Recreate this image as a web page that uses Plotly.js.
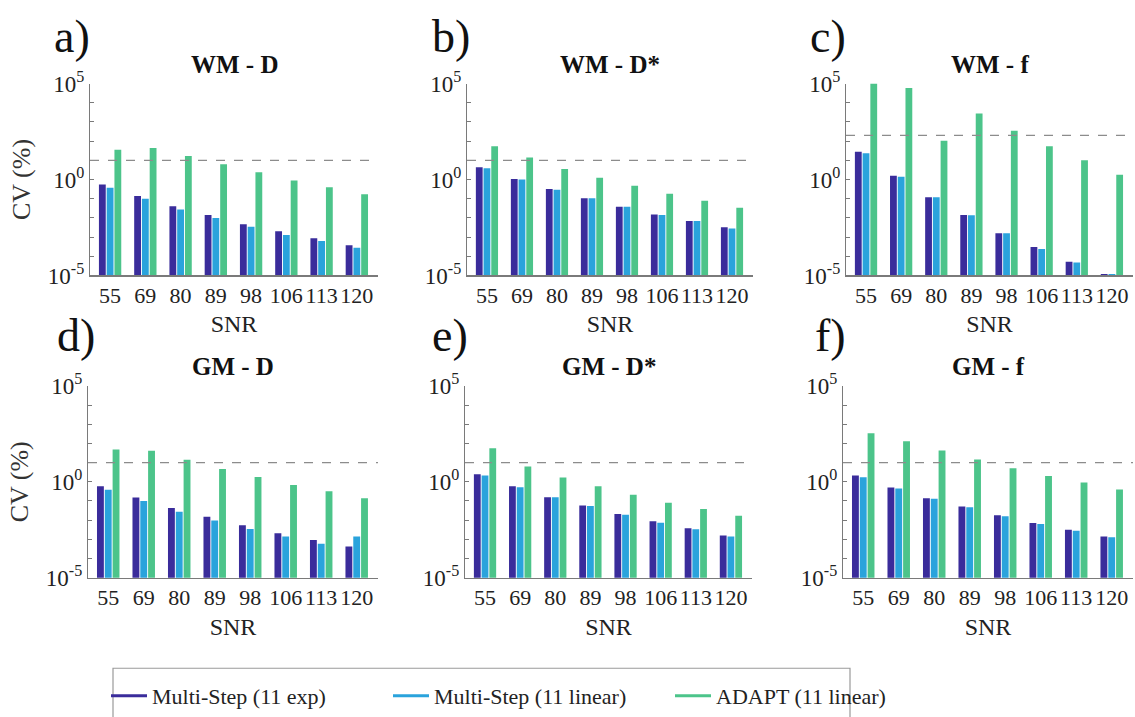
<!DOCTYPE html>
<html>
<head>
<meta charset="utf-8">
<script src="https://cdn.plot.ly/plotly-3.0.1.min.js"></script>
<style>html,body{margin:0;padding:0;background:#fff;}#chart{width:1135px;height:717px;}</style>
</head>
<body>
<div id="chart"></div>
<script>
// ---- data (CV %) ----
const snr = ['55','69','80','89','98','106','113','120'];
const seriesNames = ['Multi-Step (11 exp)','Multi-Step (11 linear)','ADAPT (11 linear)'];
const seriesColors = ['#3a2c9b','#2aa3dc','#4cc48a'];
const panelLabels = ['a)','b)','c)','d)','e)','f)'];
const panelTitles = ['WM - D','WM - D*','WM - f','GM - D','GM - D*','GM - f'];
const thresholds = [10, 10, 200, 10, 10, 10];

const wmD_exp   = [0.55, 0.14, 0.04, 0.014, 0.0047, 0.002, 0.00087, 0.00038];
const wmD_lin   = [0.37, 0.1, 0.027, 0.01, 0.0034, 0.0013, 0.00062, 0.00028];
const wmD_adapt = [35, 44, 17, 6.2, 2.4, 0.89, 0.4, 0.17];

const wmDs_exp   = [4.4, 1.07, 0.32, 0.105, 0.038, 0.015, 0.0069, 0.0032];
const wmDs_lin   = [3.9, 1.0, 0.29, 0.105, 0.038, 0.014, 0.0069, 0.0028];
const wmDs_adapt = [54, 14, 3.5, 1.23, 0.47, 0.18, 0.079, 0.034];

const wmF_exp   = [28, 1.55, 0.12, 0.014, 0.0016, 0.0003, 0.000051, 0.000012];
const wmF_lin   = [23, 1.38, 0.12, 0.0135, 0.0016, 0.00024, 0.000047, 0.000012];
const wmF_adapt = [100000, 59000, 105, 2750, 350, 54, 10, 1.74];

const gmD_exp   = [0.58, 0.15, 0.043, 0.015, 0.0054, 0.0021, 0.00093, 0.00043];
const gmD_lin   = [0.38, 0.1, 0.0275, 0.0095, 0.0035, 0.0014, 0.0006, 0.0014];
const gmD_adapt = [48, 41, 14, 4.7, 1.8, 0.69, 0.32, 0.14];

const gmDs_exp   = [2.5, 0.58, 0.155, 0.059, 0.021, 0.0087, 0.0038, 0.0016];
const gmDs_lin   = [2.1, 0.52, 0.155, 0.055, 0.019, 0.0074, 0.0034, 0.0014];
const gmDs_adapt = [56, 6.3, 1.66, 0.58, 0.21, 0.081, 0.038, 0.017];

const gmF_exp   = [2.1, 0.51, 0.14, 0.052, 0.018, 0.0071, 0.0032, 0.0014];
const gmF_lin   = [1.74, 0.45, 0.13, 0.047, 0.016, 0.0063, 0.0028, 0.0013];
const gmF_adapt = [340, 130, 43, 14.5, 5.1, 2.0, 0.93, 0.4];

const yTickVals = [1e-5, 1, 1e5];
const yTickText = ['10<sup>-5</sup>','10<sup>0</sup>','10<sup>5</sup>'];
const yMinorVals = [1e-4,1e-3,1e-2,1e-1,10,100,1e3,1e4];

// ---- layout geometry (pixels) ----
const W = 1135, H = 717;
const xPix = [[90,378],[467,753],[846,1133],[88,378],[465,752],[843,1133]];
const yPix = [[84,277],[84,277],[84,277],[388,581],[388,581],[388,581]];
const labelPos = [[52,37],[430,37],[808,37],[55,337],[430,337],[813,337]];

const panelData = [
  [wmD_exp, wmD_lin, wmD_adapt],
  [wmDs_exp, wmDs_lin, wmDs_adapt],
  [wmF_exp, wmF_lin, wmF_adapt],
  [gmD_exp, gmD_lin, gmD_adapt],
  [gmDs_exp, gmDs_lin, gmDs_adapt],
  [gmF_exp, gmF_lin, gmF_adapt]
];

const serif = '"Liberation Serif", "Times New Roman", Times, "DejaVu Serif", serif';
const axisGray = '#7a7a7a';
const traces = [];
const layout = {
  width: W, height: H,
  margin: {l:0, r:0, t:0, b:0},
  paper_bgcolor: '#fff', plot_bgcolor: '#fff',
  barmode: 'group', bargap: 0.34, bargroupgap: 0.12,
  font: {family: serif, color: '#222', size: 20},
  showlegend: true,
  legend: {
    orientation: 'h', x: 106/W, xanchor: 'left', y: 1 - 679/H, yanchor: 'top',
    borderwidth: 0, bgcolor: 'rgba(0,0,0,0)',
    font: {family: serif, size: 22, color: '#222'},
    entrywidth: 231, entrywidthmode: 'pixels', itemwidth: 36, traceorder: 'normal'
  },
  annotations: [],
  shapes: [{
    type: 'rect', xref: 'paper', yref: 'paper',
    x0: 113/W, x1: 850/W, y0: 1 - 722/H, y1: 1 - 672/H,
    line: {color: '#9a9a9a', width: 1.2}, fillcolor: 'rgba(0,0,0,0)'
  }]
};

panelData.forEach((series, p) => {
  const k = p === 0 ? '' : String(p + 1);
  const xa = 'x' + k, ya = 'y' + k;
  series.forEach((vals, s) => {
    traces.push({
      type: 'bar', x: snr, y: vals, xaxis: xa, yaxis: ya,
      name: seriesNames[s], marker: {color: seriesColors[s], line: {width: 0}},
      showlegend: false, hoverinfo: 'x+y+name'
    });
  });
  layout['xaxis' + k] = {
    domain: [xPix[p][0] / W, xPix[p][1] / W], anchor: ya,
    type: 'category', range: [-0.57, 7.6],
    showline: true, linecolor: axisGray, linewidth: 1.2,
    ticks: '', showgrid: false, zeroline: false, fixedrange: true,
    tickangle: 0,
    tickfont: {family: serif, size: 22, color: '#222'},
    title: {text: 'SNR', font: {family: serif, size: 24, color: '#222'}, standoff: 8}
  };
  const yax = {
    domain: [1 - yPix[p][1] / H, 1 - yPix[p][0] / H], anchor: xa,
    type: 'log', range: [-5, 5],
    tickmode: 'array', tickvals: yTickVals, ticktext: yTickText,
    ticks: 'inside', ticklen: 4, tickcolor: axisGray, tickwidth: 1,
    minor: {tickmode: 'array', tickvals: yMinorVals, ticks: 'inside', ticklen: 4, tickcolor: axisGray, showgrid: false},
    showline: true, linecolor: axisGray, linewidth: 1.2,
    showgrid: false, zeroline: false, fixedrange: true,
    tickfont: {family: serif, size: 23, color: '#222'}
  };
  if (p % 3 === 0) {
    yax.title = {text: 'CV (%)', font: {family: serif, size: 26, color: '#333'}, standoff: 9};
  }
  layout['yaxis' + k] = yax;
  layout.shapes.push({
    type: 'line', xref: xa + ' domain', yref: ya,
    x0: 0, x1: 1, y0: thresholds[p], y1: thresholds[p],
    line: {color: '#8c8c8c', width: 1.2, dash: 'dash'}
  });
  layout.annotations.push({
    xref: xa + ' domain', yref: 'paper', x: 0.5, y: 1 - (yPix[p][0] - 19) / H,
    text: '<b>' + panelTitles[p] + '</b>', showarrow: false,
    font: {family: serif, size: 25, color: '#111'}, xanchor: 'center', yanchor: 'middle'
  });
  layout.annotations.push({
    xref: 'paper', yref: 'paper', x: labelPos[p][0] / W, y: 1 - labelPos[p][1] / H,
    text: panelLabels[p], showarrow: false,
    font: {family: serif, size: 46, color: '#111'}, xanchor: 'left', yanchor: 'middle'
  });
});

// legend entries drawn as line samples
seriesNames.forEach((nm, s) => {
  traces.push({
    type: 'scatter', mode: 'lines', x: [null], y: [null], xaxis: 'x', yaxis: 'y',
    name: nm, line: {color: seriesColors[s], width: 3}, showlegend: true, hoverinfo: 'skip'
  });
});

Plotly.newPlot('chart', traces, layout, {displayModeBar: false, staticPlot: true});
</script>
</body>
</html>
